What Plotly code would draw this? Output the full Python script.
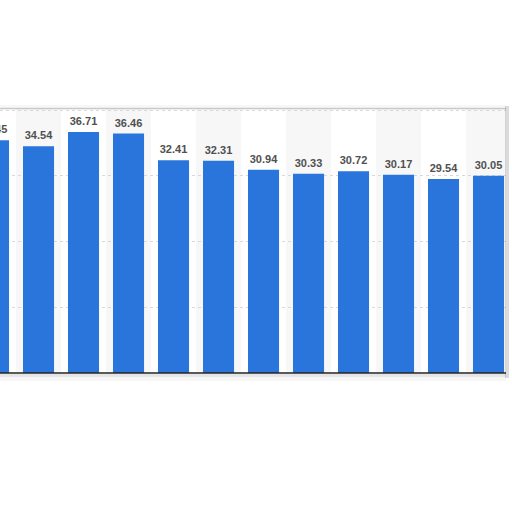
import plotly.graph_objects as go

# bar values, left to right (first bar is cut off by the frame)
positions = list(range(12))
values = [35.45, 34.54, 36.71, 36.46, 32.41, 32.31, 30.94, 30.33, 30.72, 30.17, 29.54, 30.05]
labels = [f"{v:.2f}" for v in values]
striped = [i for i in positions if i % 2 == 1]

W, H = 512, 512
top, bottom = 109, 139
plot_h = H - top - bottom

fig = go.Figure()

fig.add_trace(go.Bar(
    x=positions, y=values,
    marker=dict(color="#2a75dc", line=dict(width=0)),
    width=0.69,
    hoverinfo="skip",
))

# value labels above the bars (invisible marker just pushes the text up a bit)
fig.add_trace(go.Scatter(
    x=positions, y=values,
    mode="text+markers", text=labels,
    marker=dict(size=5, opacity=0),
    textposition="top center",
    textfont=dict(family="Liberation Sans, Arial", size=11, color="#505050", weight="bold"),
    cliponaxis=True,
    hoverinfo="skip",
))

shapes = []
# alternating column background
for i in striped:
    shapes.append(dict(type="rect", xref="x", yref="paper", x0=i - 0.5, x1=i + 0.5, y0=0, y1=1,
                       fillcolor="#f7f7f7", line=dict(width=0), layer="below"))

# card frame / shadows (pixel positions converted to paper coords)
def py(p):
    return (H - bottom - p) / plot_h

shapes += [
    dict(type="rect", xref="paper", yref="paper", x0=0, x1=506 / W, y0=py(107.5), y1=py(105),
         fillcolor="rgba(0,0,0,0.03)", line=dict(width=0)),
    dict(type="line", xref="paper", yref="paper", x0=0, x1=506 / W, y0=py(108.5), y1=py(108.5),
         line=dict(color="#c8c8c8", width=1.5)),
    dict(type="rect", xref="paper", yref="paper", x0=0, x1=508 / W, y0=py(374), y1=py(377),
         fillcolor="rgba(0,0,0,0.10)", line=dict(width=0)),
    dict(type="rect", xref="paper", yref="paper", x0=0, x1=508 / W, y0=py(377), y1=py(381),
         fillcolor="rgba(0,0,0,0.035)", line=dict(width=0)),
    dict(type="rect", xref="paper", yref="paper", x0=506 / W, x1=1, y0=py(104), y1=py(381),
         fillcolor="#ffffff", line=dict(width=0)),
    dict(type="rect", xref="paper", yref="paper", x0=505 / W, x1=509 / W, y0=py(106), y1=py(378),
         fillcolor="rgba(0,0,0,0.14)", line=dict(width=0)),
    dict(type="line", xref="paper", yref="paper", x0=0, x1=506 / W, y0=py(373), y1=py(373),
         line=dict(color="#222222", width=1.5)),
]

fig.update_layout(
    width=W, height=H,
    margin=dict(l=0, r=0, t=top, b=bottom),
    paper_bgcolor="white", plot_bgcolor="white",
    showlegend=False,
    shapes=shapes,
    xaxis=dict(range=[0.144, 0.144 + W / 45], showticklabels=False, showgrid=False,
               zeroline=False, showline=False, ticks=""),
    yaxis=dict(range=[0, 40.2], dtick=10, showticklabels=False, showgrid=True,
               gridcolor="#d9d9d9", griddash="dot", gridwidth=1, zeroline=False, ticks=""),
)

# drop the page's default body margin so the figure sits at the window corner
fig.write_html("out.html", config={"displayModeBar": False},
               post_script="document.body.style.margin='0';")
